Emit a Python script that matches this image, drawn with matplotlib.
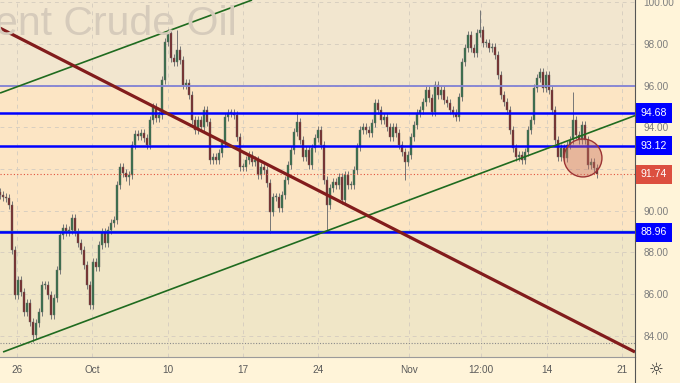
import numpy as np
import matplotlib.pyplot as plt
from matplotlib.patches import Ellipse
import matplotlib.transforms as mtransforms

plt.rcParams['font.family'] = ['Liberation Sans', 'DejaVu Sans']

# price path, one candle every 0.2 trading days
closes = [
    90.75, 90.66, 90.61, 90.28, 88.12, 85.96, 86.68, 86.11, 85.15, 85.58,
    84.67, 84.05, 84.62, 85.15, 86.44, 86.44, 85.96, 85.01, 85.82, 87.16,
    88.84, 89.17, 88.98, 89.08, 89.65, 88.98, 88.46, 88.12, 87.40, 86.44,
    85.49, 87.54, 87.31, 88.36, 88.98, 88.46, 89.08, 89.41, 89.56, 91.23,
    92.10, 91.81, 91.62, 91.71, 93.15, 93.68, 93.58, 93.72, 93.49, 93.15,
    94.35, 94.97, 94.44, 94.59, 96.26, 98.08, 98.51, 97.32, 97.13, 97.70,
    97.22, 96.02, 96.12, 95.54, 94.35, 93.87, 94.35, 94.01, 94.83, 94.25,
    92.43, 92.57, 92.43, 92.77, 93.25, 94.49, 94.68, 94.68, 94.59, 93.53,
    92.10, 92.10, 92.43, 92.67, 92.34, 92.43, 91.71, 92.10, 91.95, 91.33,
    89.94, 90.66, 90.66, 90.13, 90.75, 91.47, 92.19, 92.91, 93.77, 94.25,
    93.39, 92.57, 92.91, 92.19, 93.01, 93.49, 93.87, 93.15, 91.47, 90.28,
    91.09, 91.38, 91.23, 91.62, 90.51, 91.71, 91.23, 91.23, 91.95, 93.05,
    93.87, 94.01, 93.87, 93.72, 94.20, 95.16, 94.83, 94.35, 94.49, 94.01,
    93.53, 94.01, 93.72, 93.15, 92.81, 92.34, 92.67, 93.53, 94.11, 94.68,
    94.83, 95.21, 95.78, 95.40, 94.73, 96.02, 95.54, 95.78, 95.31, 95.16,
    94.83, 94.68, 94.49, 95.45, 97.13, 97.80, 98.42, 97.80, 97.56, 98.51,
    98.66, 98.04, 98.04, 97.80, 97.84, 97.46, 96.50, 95.54, 95.21, 94.83,
    93.87, 93.01, 92.57, 92.67, 92.43, 92.81, 93.87, 94.35, 95.88, 96.36,
    96.65, 95.88, 96.50, 95.78, 94.83, 93.39, 92.57, 93.01, 92.53, 93.15,
    93.39, 94.35, 93.63, 93.39, 94.11, 93.39, 92.19, 92.34, 92.05, 91.74,
]
first_open = 90.90
spike_highs = {56: 98.70, 59: 98.66, 99: 94.73, 160: 99.62, 191: 95.69}
spike_lows = {11: 83.73, 43: 91.23, 90: 88.93, 109: 89.08, 135: 91.47}

levels = [94.68, 93.12, 88.96]
last_price = 91.74
zone_top = 96.0
low_dotted = 83.66

# trend lines as (day, price) pairs
green_up = [(-1.13, 95.64), (15.67, 100.10)]
green_low = [(-0.93, 83.23), (41.2, 94.56)]
red_down = [(-1.13, 98.75), (41.2, 83.23)]

circle_center = (37.73, 92.53)

xtick_pos = [0, 5, 10.07, 15.07, 20.07, 26.13, 30.93, 35.33, 40.33]
xtick_lab = ['26', 'Oct', '10', '17', '24', 'Nov', '12:00', '14', '21']
yticks = [84, 86, 88, 90, 92, 94, 96, 98, 100]

X0, STEP = -1.133, 0.2
WICK = 0.18

closes = np.array(closes)
days = X0 + STEP * np.arange(len(closes))
opens = np.concatenate([[first_open], closes[:-1]])
highs = np.maximum(opens, closes) + WICK
lows = np.minimum(opens, closes) - WICK
for k, v in spike_highs.items():
    highs[k] = v
for k, v in spike_lows.items():
    lows[k] = v

fig = plt.figure(figsize=(6.8, 3.83), dpi=100, facecolor='#fff4d9')
ax = fig.add_axes([0, 26 / 383, 635 / 680, 357 / 383])
ymin, ymax = 82.99, 100.10
ax.set_xlim(-1.133, 41.2)
ax.set_ylim(ymin, ymax)

ax.axhspan(zone_top, ymax, color='#f2e6cf', zorder=0, lw=0)
ax.axhspan(levels[2], zone_top, color='#fce5c4', zorder=0, lw=0)
ax.axhspan(ymin, levels[2], color='#f0e6c7', zorder=0, lw=0)

for xt in xtick_pos:
    ax.axvline(xt, color='#d8cfc0', lw=0.7, ls=(0, (4, 4)), zorder=0.5)
for yt in yticks:
    ax.axhline(yt, color='#d8cfc0', lw=0.7, ls=(0, (4, 4)), zorder=0.5)

# candles
up = closes >= opens
ax.vlines(days, lows, highs, color='#767676', lw=0.7, zorder=2)
body_bot = np.minimum(opens, closes)
body_h = np.maximum(np.abs(closes - opens), 0.05)
ax.bar(days[up], body_h[up], bottom=body_bot[up], width=0.11,
       color='#36704a', edgecolor='#666', lw=0.3, zorder=2.1)
ax.bar(days[~up], body_h[~up], bottom=body_bot[~up], width=0.11,
       color='#7a2a2a', edgecolor='#666', lw=0.3, zorder=2.1)

# horizontal levels
ax.axhline(zone_top, color='#8181d4', lw=1.3, zorder=3)
ax.axhline(levels[0], color='#0000ff', lw=1.8, zorder=3)
ax.axhline(levels[1], color='#0000ff', lw=1.8, zorder=3)
ax.axhline(levels[2] + 0.07, color='#2fa07a', lw=1.0, zorder=3)
ax.axhline(levels[2], color='#0000ff', lw=1.8, zorder=3)
ax.axhline(last_price, color='#e0503c', lw=0.8, ls=(0, (1, 2)), zorder=3)
ax.axhline(low_dotted, color='#8a8a8a', lw=0.8, ls=(0, (1, 1.5)), zorder=3)

# trend lines
for pts, col, w in [(green_up, '#1f6b1f', 1.2), (green_low, '#1f6b1f', 1.2),
                    (red_down, '#821c1c', 2.3)]:
    ax.plot([pts[0][0], pts[1][0]], [pts[0][1], pts[1][1]], color=col, lw=w,
            zorder=3.5, solid_capstyle='butt')

ax.add_patch(Ellipse(circle_center, 38 / 15, 38 / 20.875, facecolor='#c8705f',
                     alpha=0.4, edgecolor='none', zorder=4))
ax.add_patch(Ellipse(circle_center, 38 / 15, 38 / 20.875, facecolor='none',
                     edgecolor='#9c3434', lw=1.0, zorder=4.1))

# axes styling
for s in ['top', 'left']:
    ax.spines[s].set_visible(False)
ax.spines['right'].set_color('#555555')
ax.spines['right'].set_linewidth(0.8)
ax.spines['bottom'].set_color('#9a9a9a')
ax.spines['bottom'].set_linewidth(0.8)
ax.yaxis.tick_right()
ax.set_yticks(yticks)
ax.set_yticklabels([f'{v:.2f}' for v in yticks])
ax.set_xticks(xtick_pos)
ax.set_xticklabels(xtick_lab)
ax.tick_params(axis='y', length=0, pad=6, labelsize=7.2, labelcolor='#7d7d7d')
ax.tick_params(axis='x', length=0, pad=6, labelsize=7.2, labelcolor='#5a5a5a')

trans = mtransforms.blended_transform_factory(ax.transAxes, ax.transData)
for v in levels:
    ax.text(1.03, v, f'{v:.2f}', transform=trans, ha='center', va='center',
            color='white', fontsize=7.6, clip_on=False, zorder=10,
            bbox=dict(boxstyle='square,pad=0.45', fc='#0000ff', ec='none'))
ax.text(1.03, last_price, f'{last_price:.2f}', transform=trans, ha='center',
        va='center', color='white', fontsize=7.6, clip_on=False, zorder=10,
        bbox=dict(boxstyle='square,pad=0.45', fc='#dc4f3f', ec='none'))

fig.add_artist(plt.Line2D([635 / 680, 635 / 680], [0, 26 / 383],
                          color='#555555', lw=0.8))
fig.text(237 / 680, 1 - 35 / 383, 'Brent Crude Oil', ha='right',
         va='baseline', fontsize=29.5, color='#d6cbbb')
fig.text(656 / 680, 1 - 370 / 383, '\u263c', family='DejaVu Sans',
         ha='center', va='center', fontsize=12, color='#333333')

fig.savefig('out.png', dpi=100, facecolor=fig.get_facecolor())
